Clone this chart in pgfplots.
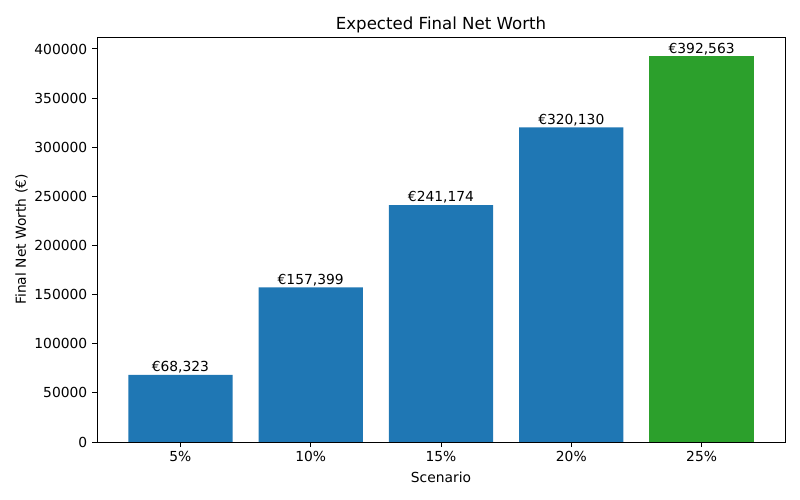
\documentclass[border=0pt]{standalone}
\usepackage{fontspec}
\setmainfont{DejaVu Sans}
\usepackage{pgfplots}
\pgfplotsset{compat=1.18}

\definecolor{mplblue}{HTML}{1F77B4}
\definecolor{mplgreen}{HTML}{2CA02C}

\begin{document}
\begin{tikzpicture}
% page = 8in x 5in, axis box placed as in the reference
\path[use as bounding box] (-70.10pt,-41.92pt) rectangle (508.06pt,319.43pt);
\begin{axis}[
	at={(0,0)}, anchor=south west,
	scale only axis,
	width=497.22pt,
	height=292.69pt,
	ybar, bar shift=0pt, bar width=0.8,
	xmin=-0.64, xmax=4.64,
	ymin=0, ymax=412191,
	xtick={0,1,2,3,4},
	xticklabels={5\%,10\%,15\%,20\%,25\%},
	ytick={0,50000,100000,150000,200000,250000,300000,350000,400000},
	scaled y ticks=false,
	/pgf/number format/fixed,
	/pgf/number format/1000 sep={},
	/pgf/number format/assume math mode=true,
	tick align=outside,
	major tick length=3.5pt,
	xtick pos=bottom, ytick pos=left,
	tick style={black, line width=0.7pt},
	axis line style={line width=0.7pt},
	ticklabel style={font=\fontsize{10}{12}\selectfont},
	title={Expected Final Net Worth},
	title style={font=\fontsize{12}{14}\selectfont, yshift=-6.5pt},
	xlabel={Scenario},
	ylabel={Final Net Worth (€)},
	ylabel style={xshift=0pt, yshift=-2pt},
	label style={font=\fontsize{10}{12}\selectfont},
	nodes near coords,
	point meta=explicit symbolic,
	nodes near coords style={anchor=south, inner sep=0pt, yshift=1pt, font=\fontsize{10}{12}\selectfont},
]
\addplot[fill=mplblue, draw=none] coordinates {
	(0,68323) [€68{,}323]
	(1,157399) [€157{,}399]
	(2,241174) [€241{,}174]
	(3,320130) [€320{,}130]
};
\addplot[fill=mplgreen, draw=none] coordinates {
	(4,392563) [€392{,}563]
};
\end{axis}
\end{tikzpicture}
\end{document}
